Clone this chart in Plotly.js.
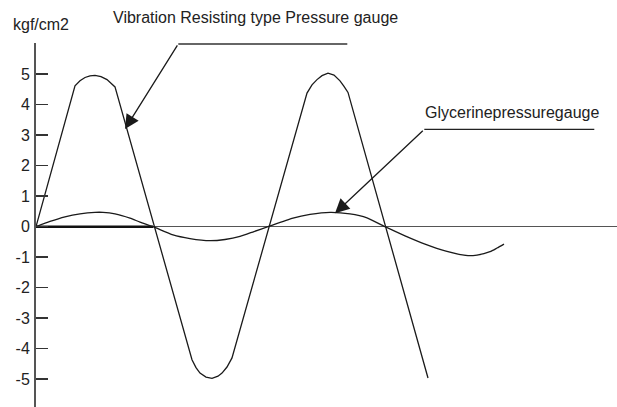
<!DOCTYPE html>
<html>
<head>
<meta charset="utf-8">
<script src="https://cdn.plot.ly/plotly-3.0.1.min.js"></script>
<style>html,body{margin:0;padding:0;background:#fff;}#chart{width:617px;height:407px;}</style>
</head>
<body>
<div id="chart"></div>
<script>
// Time axis (arbitrary units) and pressure values (kgf/cm2)
var vibX = [0, 39, 44, 49, 54, 59, 65, 71, 75, 79, 156, 160, 164, 170, 176, 182, 186, 191, 196, 271, 276, 281, 286, 292, 298, 304, 308, 312, 392];
var vibY = [0, 4.62, 4.78, 4.89, 4.94, 4.96, 4.92, 4.82, 4.7, 4.58, -4.36, -4.62, -4.8, -4.93, -4.97, -4.9, -4.8, -4.6, -4.3, 4.38, 4.65, 4.82, 4.95, 5.03, 4.97, 4.78, 4.6, 4.4, -4.96];

var glyX = [0, 14, 29, 44, 59, 67, 79, 94, 104, 117, 137, 154, 174, 189, 204, 218, 232, 257, 274, 294, 314, 331, 349, 369, 389, 410, 432, 441, 454, 461, 468];
var glyY = [0, 0.17, 0.32, 0.42, 0.47, 0.47, 0.42, 0.28, 0.15, 0, -0.27, -0.39, -0.46, -0.42, -0.32, -0.16, 0, 0.28, 0.4, 0.47, 0.42, 0.29, 0, -0.3, -0.57, -0.8, -0.95, -0.93, -0.82, -0.7, -0.57];

var baseX = [0, 117];
var baseY = [0, 0];

var tickVals = [-5, -4, -3, -2, -1, 0, 1, 2, 3, 4, 5];
var tickText = ["-5", "-4", "-3", "-2", "-1", "0", "1", "2", "3", "4", "5"];

var unitLabel = "kgf/cm2";
var vibLabel = "Vibration Resisting type Pressure gauge";
var glyLabel = "Glycerinepressuregauge";

var FONT = "Liberation Sans, Arial, sans-serif";

var traces = [
  {x: baseX, y: baseY, mode: "lines", line: {color: "#111", width: 2.6}, hoverinfo: "skip"},
  {x: vibX, y: vibY, mode: "lines", line: {color: "#1a1a1a", width: 1.3}, name: vibLabel},
  {x: glyX, y: glyY, mode: "lines", line: {color: "#1a1a1a", width: 1.3, shape: "spline", smoothing: 0.6}, name: glyLabel}
];

var layout = {
  width: 617, height: 407,
  margin: {l: 36, r: 0, t: 43, b: 0},
  paper_bgcolor: "#fff", plot_bgcolor: "#fff",
  showlegend: false,
  font: {family: FONT, size: 16, color: "#222"},
  xaxis: {visible: false, range: [0, 581], fixedrange: true},
  yaxis: {
    range: [-5.91, 6.02],
    showgrid: false,
    zeroline: true, zerolinecolor: "#555", zerolinewidth: 1.3,
    showline: true, linecolor: "#555", linewidth: 2,
    ticks: "inside", ticklen: 12, tickwidth: 1.5, tickcolor: "#333",
    tickvals: tickVals, ticktext: tickText,
    tickfont: {family: FONT, size: 16, color: "#222"},
    ticklabelstandoff: 1
  },
  shapes: [
    {type: "line", xref: "x", yref: "y", x0: 142.3, y0: 5.99, x1: 311.3, y1: 5.99, line: {color: "#666", width: 2.2}},
    {type: "line", xref: "x", yref: "y", x0: 388.3, y0: 3.19, x1: 558.3, y1: 3.19, line: {color: "#222", width: 1.3}}
  ],
  annotations: [
    {x: 89, y: 3.2, ax: 142.3, ay: 5.99, axref: "x", ayref: "y", xref: "x", yref: "y", text: "", showarrow: true, arrowhead: 2, arrowsize: 2.2, arrowwidth: 1.3, arrowcolor: "#1a1a1a"},
    {x: 299, y: 0.44, ax: 388.3, ay: 3.19, axref: "x", ayref: "y", xref: "x", yref: "y", text: "", showarrow: true, arrowhead: 2, arrowsize: 2.2, arrowwidth: 1.3, arrowcolor: "#1a1a1a"},
    {x: 0.129, y: 1.0687, xref: "paper", yref: "paper", xanchor: "left", yanchor: "middle", text: vibLabel, showarrow: false, font: {family: FONT, size: 16, color: "#222"}},
    {x: 387, y: 3.73, xref: "x", yref: "y", xanchor: "left", yanchor: "middle", text: glyLabel, showarrow: false, font: {family: FONT, size: 16, color: "#222"}},
    {x: -0.043, y: 1.052, xref: "paper", yref: "paper", xanchor: "left", yanchor: "middle", text: unitLabel, showarrow: false, font: {family: FONT, size: 16, color: "#222"}}
  ]
};

Plotly.newPlot("chart", traces, layout, {displayModeBar: false, staticPlot: true});
</script>
</body>
</html>
